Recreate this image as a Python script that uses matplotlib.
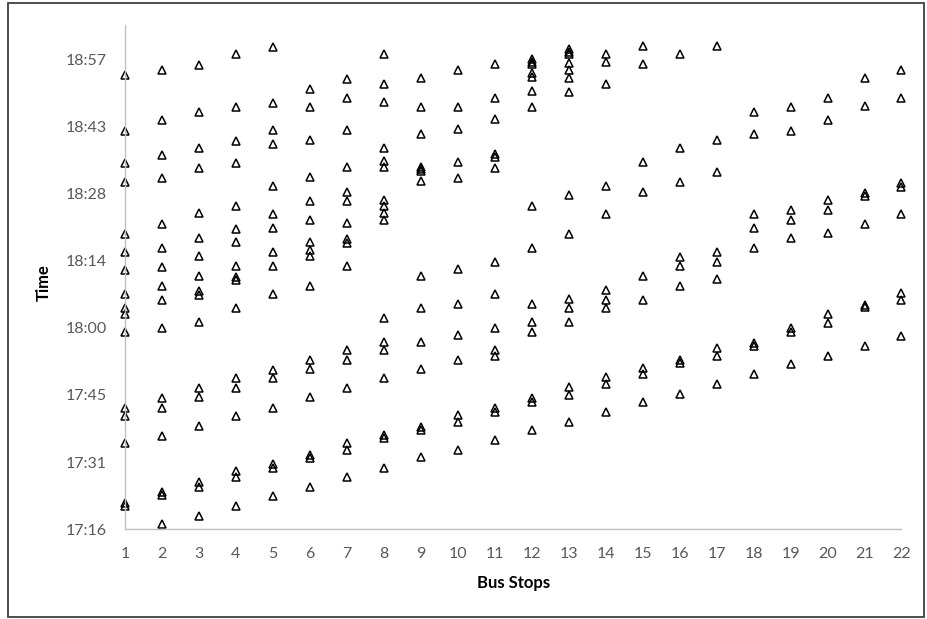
import numpy as np
import matplotlib
matplotlib.use("Agg")
import matplotlib.pyplot as plt
from matplotlib.patches import Rectangle
from matplotlib.ticker import FuncFormatter

# Arrival times at each stop, in minutes after 17:00
stop01 = [114.2, 102.3, 95.4, 91.2, 80.1, 76.2, 72.4, 67.2, 64.2, 62.9, 59.2, 42.9, 41.1, 35.2, 22.5, 21.8]
stop02 = [115.2, 104.6, 97.1, 92.1, 82.3, 77.1, 73.1, 69.0, 66.0, 59.9, 44.9, 42.9, 36.9, 24.7, 24.2, 17.9]
stop03 = [116.4, 106.2, 98.5, 94.2, 84.6, 79.2, 75.4, 71.1, 67.8, 67.1, 61.3, 47.0, 45.1, 39.0, 27.0, 25.8, 19.7]
stop04 = [118.7, 107.4, 100.1, 95.4, 86.1, 81.3, 78.5, 73.3, 71.0, 70.2, 64.2, 49.2, 47.0, 41.1, 29.2, 28.0, 21.9]
stop05 = [120.3, 108.3, 102.4, 99.4, 90.5, 84.4, 81.4, 76.2, 73.3, 67.2, 51.0, 49.2, 42.9, 30.7, 30.0, 23.9]
stop06 = [111.2, 107.4, 100.3, 92.3, 87.2, 83.1, 78.5, 76.6, 75.5, 69.0, 53.1, 51.1, 45.1, 32.7, 32.0, 25.8]
stop07 = [113.3, 109.2, 102.4, 94.4, 89.1, 87.3, 82.4, 79.0, 78.1, 73.3, 55.3, 53.1, 47.2, 35.2, 33.8, 28.0]
stop08 = [118.7, 112.3, 108.5, 98.6, 95.8, 94.4, 87.4, 86.2, 84.7, 83.1, 62.1, 57.0, 55.3, 49.3, 37.0, 36.3, 30.0]
stop09 = [113.5, 107.4, 101.5, 94.6, 94.1, 93.7, 91.4, 71.1, 64.2, 57.0, 51.1, 38.8, 38.1, 32.2]
stop10 = [115.2, 107.4, 102.6, 95.6, 92.1, 72.6, 65.1, 58.5, 53.1, 41.3, 39.9, 33.8]
stop11 = [116.6, 109.2, 104.7, 97.2, 96.7, 94.2, 74.2, 67.3, 59.9, 55.3, 54.0, 42.8, 42.0, 36.0]
stop12 = [117.6, 117.1, 116.6, 114.6, 113.9, 110.7, 107.4, 86.2, 77.1, 65.1, 61.3, 59.2, 44.9, 44.2, 38.1]
stop13 = [119.7, 119.2, 118.7, 116.7, 115.3, 113.5, 110.5, 88.4, 80.1, 66.1, 64.2, 61.3, 47.3, 45.6, 39.9]
stop14 = [118.7, 117.1, 112.2, 90.4, 84.4, 68.1, 66.0, 64.2, 49.4, 48.0, 42.0]
stop15 = [120.5, 116.5, 95.5, 89.1, 71.1, 66.0, 51.3, 50.1, 44.2]
stop16 = [118.7, 98.5, 91.2, 75.3, 73.3, 69.0, 53.1, 52.4, 45.8]
stop17 = [120.5, 100.3, 93.4, 76.3, 74.2, 70.4, 55.6, 54.0, 48.0]
stop18 = [106.2, 101.6, 84.4, 81.4, 77.1, 56.8, 56.1, 50.1]
stop19 = [107.4, 102.3, 85.3, 83.1, 79.2, 59.9, 59.2, 52.3]
stop20 = [109.2, 104.6, 87.4, 85.3, 80.3, 63.0, 61.1, 54.0]
stop21 = [113.5, 107.6, 89.0, 88.3, 82.3, 64.9, 64.4, 56.1]
stop22 = [115.3, 109.2, 91.0, 90.3, 84.4, 67.4, 66.0, 58.3]

stops = list(range(1, 23))
y_ticks = [0.72, 0.73, 0.74, 0.75, 0.76, 0.77, 0.78, 0.79]  # fraction of a day

all_stops = [stop01, stop02, stop03, stop04, stop05, stop06, stop07, stop08, stop09, stop10, stop11,
             stop12, stop13, stop14, stop15, stop16, stop17, stop18, stop19, stop20, stop21, stop22]

xs, ys = [], []
for s, times in zip(stops, all_stops):
    for m in times:
        xs.append(s)
        ys.append((17 * 60 + m) / 1440.0)

W, H = 928, 619
fig = plt.figure(figsize=(W / 100, H / 100), dpi=100)
fig.patch.set_facecolor("white")

AX_L, AX_R, AX_B, AX_T = 125, 901.5, 529.3, 25
ax = fig.add_axes([AX_L / W, 1 - AX_B / H, (AX_R - AX_L) / W, (AX_B - AX_T) / H])
ax.plot(xs, ys, linestyle="none", marker="^", markersize=5.8, markerfacecolor="none",
        markeredgecolor="black", markeredgewidth=1.1, clip_on=False)

ax.set_xlim(1, 22)
ax.set_ylim(0.72, 0.7951)
ax.set_xticks(stops)
ax.set_yticks(y_ticks)


def fmt(v, pos):
    total = int(np.floor(round(v * 1440, 6)))
    return f"{total // 60}:{total % 60:02d}"


ax.yaxis.set_major_formatter(FuncFormatter(fmt))

for side in ["top", "right"]:
    ax.spines[side].set_visible(False)
for side in ["left", "bottom"]:
    ax.spines[side].set_color("#BFBFBF")
    ax.spines[side].set_linewidth(1.0)

FAM = ["Lato", "DejaVu Sans"]
ax.tick_params(axis="both", length=0, colors="#595959")
ax.tick_params(axis="x", pad=13)
ax.tick_params(axis="y", pad=13)
for lab in ax.get_xticklabels() + ax.get_yticklabels():
    lab.set_fontfamily(FAM)
    lab.set_fontsize(11.5)

ax.set_xlabel("Bus Stops", fontsize=12, fontweight="bold", family=FAM, color="black")
ax.set_ylabel("Time", fontsize=12, fontweight="bold", family=FAM, color="black")
ax.xaxis.set_label_coords((514 - AX_L) / (AX_R - AX_L), -(575 - AX_B) / (AX_B - AX_T))
ax.yaxis.set_label_coords(-(AX_L - 52) / (AX_R - AX_L), (AX_B - 283) / (AX_B - AX_T))

fig.add_artist(Rectangle((7.5 / W, 1 - 617 / H), (924 - 7.5) / W, (617 - 2.5) / H,
                         transform=fig.transFigure, fill=False, edgecolor="#404040", linewidth=1.3))

fig.savefig("out.png", dpi=100, facecolor="white")
